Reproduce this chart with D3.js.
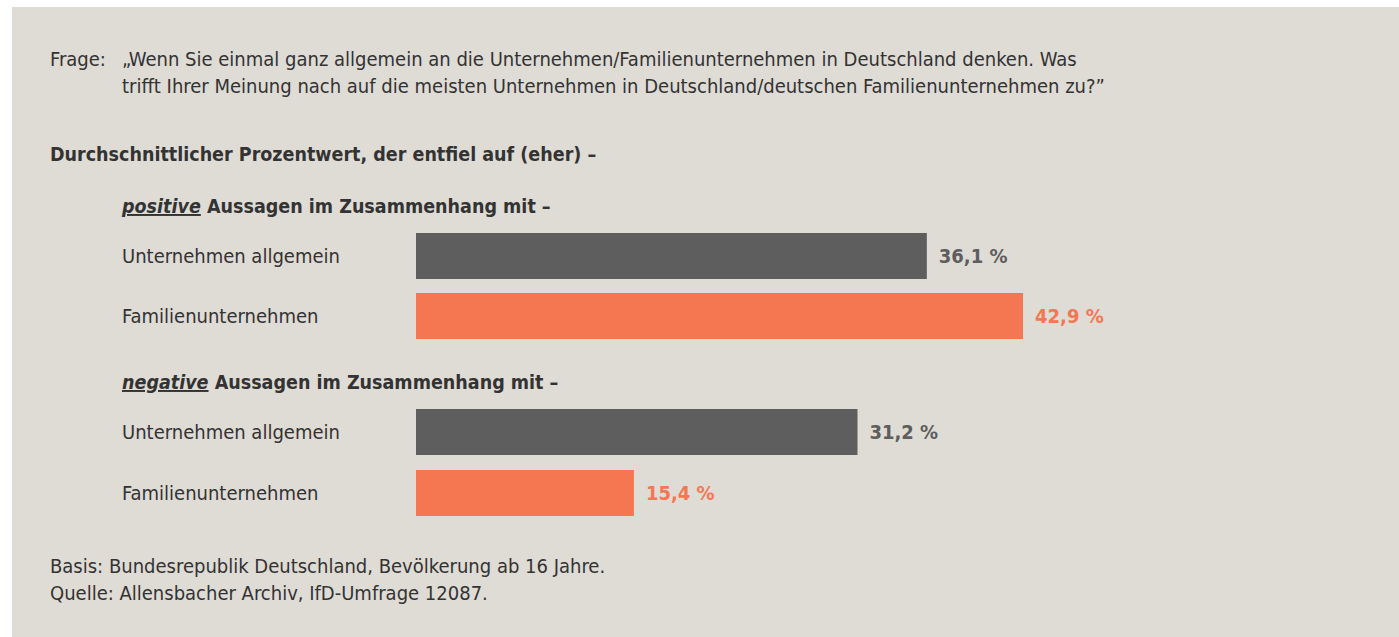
<!DOCTYPE html>
<html>
  <head>
    <meta charset="utf-8"/>
    <title>Familienunternehmen</title>
    <script src="https://cdnjs.cloudflare.com/ajax/libs/d3/7.8.5/d3.min.js"></script>
    <style>
      body { margin: 0; background: #fff; }
      text { font-family: "DejaVu Sans Condensed", "Liberation Sans Narrow", sans-serif; fill: #333; }
      .bold { font-weight: bold; }
    </style>
  </head>
  <body>

    <script>

      var outerWidth = 1399;
      var outerHeight = 637;

      var questionLines = [
        "„Wenn Sie einmal ganz allgemein an die Unternehmen/Familienunternehmen in Deutschland denken. Was",
        "trifft Ihrer Meinung nach auf die meisten Unternehmen in Deutschland/deutschen Familienunternehmen zu?”"
      ];
      var groups = ["positive", "negative"];
      var categories = ["Unternehmen allgemein", "Familienunternehmen"];
      var positiveValues = [36.1, 42.9];
      var negativeValues = [31.2, 15.4];
      var footnotes = [
        "Basis: Bundesrepublik Deutschland, Bevölkerung ab 16 Jahre.",
        "Quelle: Allensbacher Archiv, IfD-Umfrage 12087."
      ];

      var colors = ["#5d5e5d", "#f47752"];

      var data = [];
      groups.forEach(function (g, gi){
        var vals = gi === 0 ? positiveValues : negativeValues;
        categories.forEach(function (c, ci){
          data.push({ group: g, gi: gi, cat: c, ci: ci, value: vals[ci] });
        });
      });

      var svg = d3.select("body").append("svg")
        .attr("width", outerWidth)
        .attr("height", outerHeight);

      svg.append("rect")
        .attr("x", 12).attr("y", 7)
        .attr("width", outerWidth - 12).attr("height", outerHeight - 7)
        .attr("fill", "#dfdbd5");

      var fontSize = 20;
      var boldSize = 19.5;

      // question
      svg.append("text").attr("x", 50).attr("y", 66).style("font-size", fontSize + "px").text("Frage:");
      svg.selectAll(".q").data(questionLines).enter().append("text")
        .attr("class", "q")
        .attr("x", 122)
        .attr("y", function (d, i){ return 66 + i * 27; })
        .style("font-size", fontSize + "px")
        .text(function (d){ return d; });

      svg.append("text").attr("class", "bold")
        .attr("x", 50).attr("y", 161)
        .style("font-size", boldSize + "px")
        .text("Durchschnittlicher Prozentwert, der entfiel auf (eher) –");

      var xScale = d3.scaleLinear().domain([0, 50]).range([416, 416 + 50 * 14.15]);

      // y positions: group headings and bars
      var groupTop = d3.scaleOrdinal().domain(groups).range([233, 409]);
      var rowStep = 60;
      var barHeight = 46;

      var heads = svg.selectAll(".head").data(groups).enter().append("text")
        .attr("class", "head bold")
        .attr("x", 122)
        .attr("y", function (d){ return groupTop(d) - 20; })
        .style("font-size", boldSize + "px");
      heads.append("tspan")
        .style("font-style", "italic")
        .style("text-decoration", "underline")
        .text(function (d){ return d; });
      heads.append("tspan").text(" Aussagen im Zusammenhang mit –");

      function barY(d){ return groupTop(d.group) + d.ci * rowStep + (d.gi === 1 ? d.ci * 1 : 0); }

      svg.selectAll(".bar").data(data).enter().append("rect")
        .attr("class", "bar")
        .attr("x", xScale(0))
        .attr("y", barY)
        .attr("width", function (d){ return xScale(d.value) - xScale(0); })
        .attr("height", barHeight)
        .attr("fill", function (d){ return colors[d.ci]; });

      svg.selectAll(".cat").data(data).enter().append("text")
        .attr("class", "cat")
        .attr("x", 122)
        .attr("y", function (d){ return barY(d) + 30; })
        .style("font-size", fontSize + "px")
        .text(function (d){ return d.cat; });

      svg.selectAll(".val").data(data).enter().append("text")
        .attr("class", "val bold")
        .attr("x", function (d){ return xScale(d.value) + 12; })
        .attr("y", function (d){ return barY(d) + 30; })
        .style("font-size", fontSize + "px")
        .style("fill", function (d){ return colors[d.ci]; })
        .text(function (d){ return d3.format(".1f")(d.value).replace(".", ",") + " %"; });

      svg.selectAll(".foot").data(footnotes).enter().append("text")
        .attr("class", "foot")
        .attr("x", 50)
        .attr("y", function (d, i){ return 573 + i * 27; })
        .style("font-size", fontSize + "px")
        .text(function (d){ return d; });

    </script>

  </body>
</html>
